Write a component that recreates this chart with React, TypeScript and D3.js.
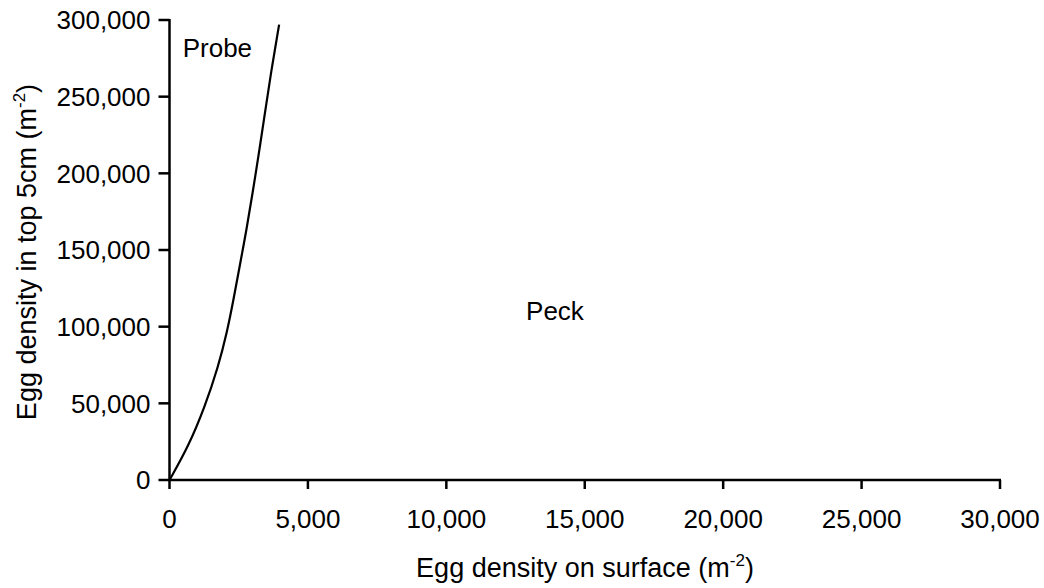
import React from "react";
import * as d3 from "d3";

const probeX = [0, 680, 1280, 1760, 2070, 2310, 2560, 2780, 3000, 3220, 3420, 3650, 3960];
const probeY = [0, 21700, 47800, 73900, 95700, 117400, 142000, 163000, 187000, 212000, 236000, 264000, 297000];
const xTicks = [0, 5000, 10000, 15000, 20000, 25000, 30000];
const yTicks = [0, 50000, 100000, 150000, 200000, 250000, 300000];
const regionLabels = ["Probe", "Peck"];
const regionX = [477, 12880];
const regionY = [276000, 104300];

const W = 1044;
const H = 588;
const FONT = "'Liberation Sans', Arial, sans-serif";
const FS = 26;

export default function App() {
  const x = d3.scaleLinear().domain([0, 30000]).range([169.5, 1000]);
  const y = d3.scaleLinear().domain([0, 300000]).range([480, 20]);
  const fmt = d3.format(",");
  const pts = probeX.map((v, i) => [v, probeY[i]] as [number, number]);
  const line = d3
    .line<[number, number]>()
    .x((d) => x(d[0]))
    .y((d) => y(d[1]))
    .curve(d3.curveBasis);

  return (
    <svg
      width={W}
      height={H}
      style={{ position: "absolute", left: 0, top: 0, background: "#fff" }}
      fontFamily={FONT}
    >
      <rect width={W} height={H} fill="#fff" />
      <line x1={x(0)} x2={x(0)} y1={y(300000) - 1} y2={y(0) + 1} stroke="#000" strokeWidth={2.5} />
      <line x1={x(0) - 1} x2={x(30000) + 1} y1={y(0)} y2={y(0)} stroke="#000" strokeWidth={2.5} />
      {yTicks.map((t) => (
        <g key={"y" + t}>
          <line x1={x(0) - 11} x2={x(0)} y1={y(t)} y2={y(t)} stroke="#000" strokeWidth={2.5} />
          <text x={x(0) - 19} y={y(t)} dy="0.36em" textAnchor="end" fontSize={FS} fill="#000">
            {fmt(t)}
          </text>
        </g>
      ))}
      {xTicks.map((t) => (
        <g key={"x" + t}>
          <line x1={x(t)} x2={x(t)} y1={y(0)} y2={y(0) + 9} stroke="#000" strokeWidth={2.5} />
          <text x={x(t)} y={528} textAnchor="middle" fontSize={FS} fill="#000">
            {fmt(t)}
          </text>
        </g>
      ))}
      <path d={line(pts) || ""} fill="none" stroke="#000" strokeWidth={2.2} />
      {regionLabels.map((l, i) => (
        <text key={l} x={x(regionX[i])} y={y(regionY[i])} fontSize={FS} fill="#000">
          {l}
        </text>
      ))}
      <text x={585} y={577} textAnchor="middle" fontSize={27} fill="#000">
        Egg density on surface (m
        <tspan fontSize={17} dy={-11}>-2</tspan>
        <tspan dy={11}>)</tspan>
      </text>
      <text transform={`translate(36, 252) rotate(-90)`} textAnchor="middle" fontSize={27} fill="#000">
        Egg density in top 5cm (m
        <tspan fontSize={17} dy={-11}>-2</tspan>
        <tspan dy={11}>)</tspan>
      </text>
    </svg>
  );
}
